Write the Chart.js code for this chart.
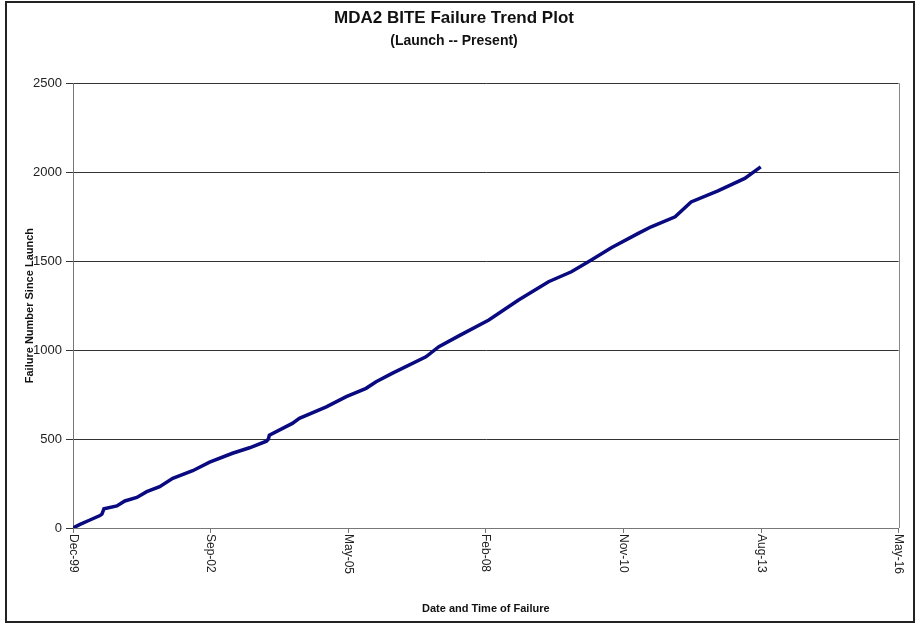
<!DOCTYPE html>
<html>
<head>
<meta charset="utf-8">
<script src="https://cdn.jsdelivr.net/npm/chart.js@4/dist/chart.umd.min.js"></script>
<style>
html, body { margin: 0; padding: 0; background: #fff; }
#wrap { width: 916px; height: 628px; position: relative; }
</style>
</head>
<body>
<div id="wrap"><canvas id="trend"></canvas></div>
<script>
// cumulative failure count
var failDates = [
    '1999-12-06', '2000-01-26', '2000-04-07', '2000-06-19', '2000-07-03', '2000-07-18',
    '2000-10-20', '2000-12-17', '2001-03-14', '2001-05-25', '2001-08-27', '2001-11-30',
    '2002-04-24', '2002-08-25', '2003-02-07', '2003-06-11', '2003-10-12', '2003-10-26',
    '2003-11-02', '2004-04-17', '2004-06-07', '2004-12-20', '2005-05-14', '2005-10-05',
    '2005-12-17', '2006-04-12', '2006-12-14', '2007-03-18', '2007-08-10', '2008-03-15',
    '2008-10-17', '2009-05-23', '2009-11-05', '2010-03-30', '2010-08-22', '2011-03-06',
    '2011-06-08', '2011-11-29', '2012-03-24', '2012-10-05', '2013-04-18', '2013-08-12'
];
var failCounts = [
    0, 20, 45, 70, 78, 108,
    124, 152, 172, 204, 232, 279,
    322, 370, 420, 451, 488, 500,
    522, 588, 616, 681, 738, 785,
    822, 869, 962, 1019, 1080, 1169,
    1281, 1384, 1440, 1506, 1575, 1656,
    1693, 1749, 1833, 1895, 1965, 2030
];
var tickLabels = ['Dec-99', 'Sep-02', 'May-05', 'Feb-08', 'Nov-10', 'Aug-13', 'May-16'];
var yTicks = [0, 500, 1000, 1500, 2000, 2500];

var axisStart = Date.UTC(1999, 11, 6);
var dayMs = 86400000;

var points = failDates.map(function (d, i) {
    var p = d.split('-');
    return { x: (Date.UTC(+p[0], +p[1] - 1, +p[2]) - axisStart) / dayMs, y: failCounts[i] };
});

var fontFam = '"Liberation Sans", Arial, sans-serif';

// white page + outer frame
var framePlugin = {
    id: 'frame',
    beforeDraw: function (chart) {
        var c = chart.ctx;
        c.save();
        c.fillStyle = '#fff';
        c.fillRect(0, 0, chart.width, chart.height);
        c.restore();
    },
    afterDraw: function (chart) {
        var c = chart.ctx, a = chart.chartArea;
        c.save();
        c.strokeStyle = '#888';
        c.lineWidth = 1;
        c.beginPath();
        c.moveTo(Math.round(a.right) + 0.5, a.top);
        c.lineTo(Math.round(a.right) + 0.5, a.bottom);
        c.stroke();
        c.strokeStyle = '#222';
        c.lineWidth = 2;
        c.strokeRect(6, 2, 908, 620);
        c.restore();
    }
};

// date labels read top-down from the axis
var xLabelPlugin = {
    id: 'xLabels',
    afterDraw: function (chart) {
        var s = chart.scales.x, c = chart.ctx;
        c.save();
        c.fillStyle = '#222';
        c.font = '12px ' + fontFam;
        c.textAlign = 'left';
        c.textBaseline = 'middle';
        s.ticks.forEach(function (t, i) {
            var px = s.getPixelForValue(t.value);
            c.save();
            c.translate(px, s.top + 6);
            c.rotate(Math.PI / 2);
            c.fillText(tickLabels[i], 0, 0);
            c.restore();
        });
        c.restore();
    }
};

new Chart(document.getElementById('trend'), {
    type: 'line',
    data: {
        datasets: [{
            label: 'Failures',
            data: points,
            borderColor: '#0a0a80',
            borderWidth: 3.5,
            pointRadius: 0,
            tension: 0,
            fill: false
        }]
    },
    options: {
        responsive: true,
        maintainAspectRatio: false,
        animation: false,
        devicePixelRatio: 1,
        layout: { padding: { left: 8, right: 16, top: 8, bottom: 8 } },
        plugins: {
            legend: { display: false },
            tooltip: { enabled: false },
            title: {
                display: true,
                text: 'MDA2 BITE Failure Trend Plot',
                color: '#111',
                font: { family: fontFam, size: 17, weight: 'bold', lineHeight: 1.2 },
                padding: { top: 0, bottom: 2 }
            },
            subtitle: {
                display: true,
                text: '(Launch -- Present)',
                color: '#111',
                font: { family: fontFam, size: 14, weight: 'bold', lineHeight: 1.2 },
                padding: { top: 2, bottom: 34 }
            }
        },
        scales: {
            x: {
                type: 'linear',
                min: 0,
                max: 6000,
                afterFit: function (s) { s.height = 92; },
                ticks: {
                    stepSize: 1000,
                    autoSkip: false,
                    minRotation: 90,
                    maxRotation: 90,
                    color: 'rgba(0,0,0,0)',
                    font: { family: fontFam, size: 12 },
                    callback: function (v, i) { return tickLabels[i]; }
                },
                grid: { drawOnChartArea: false, color: '#777', tickLength: 5 },
                border: { color: '#777', width: 1 },
                title: {
                    display: true,
                    text: 'Date and Time of Failure',
                    color: '#111',
                    font: { family: fontFam, size: 11, weight: 'bold' },
                    padding: { top: 4, bottom: 4 }
                }
            },
            y: {
                min: 0,
                max: 2500,
                afterFit: function (s) { s.width = 65; },
                afterBuildTicks: function (s) {
                    s.ticks = yTicks.map(function (v) { return { value: v }; });
                },
                ticks: {
                    color: '#222',
                    padding: 4,
                    font: { family: fontFam, size: 13 },
                    callback: function (v) { return String(v); }
                },
                grid: { color: '#333', tickLength: 7 },
                border: { color: '#777', width: 1 },
                title: {
                    display: true,
                    text: 'Failure Number Since Launch',
                    color: '#111',
                    font: { family: fontFam, size: 11, weight: 'bold' },
                    padding: { top: 15, bottom: 0 }
                }
            }
        }
    },
    plugins: [framePlugin, xLabelPlugin]
});
</script>
</body>
</html>
